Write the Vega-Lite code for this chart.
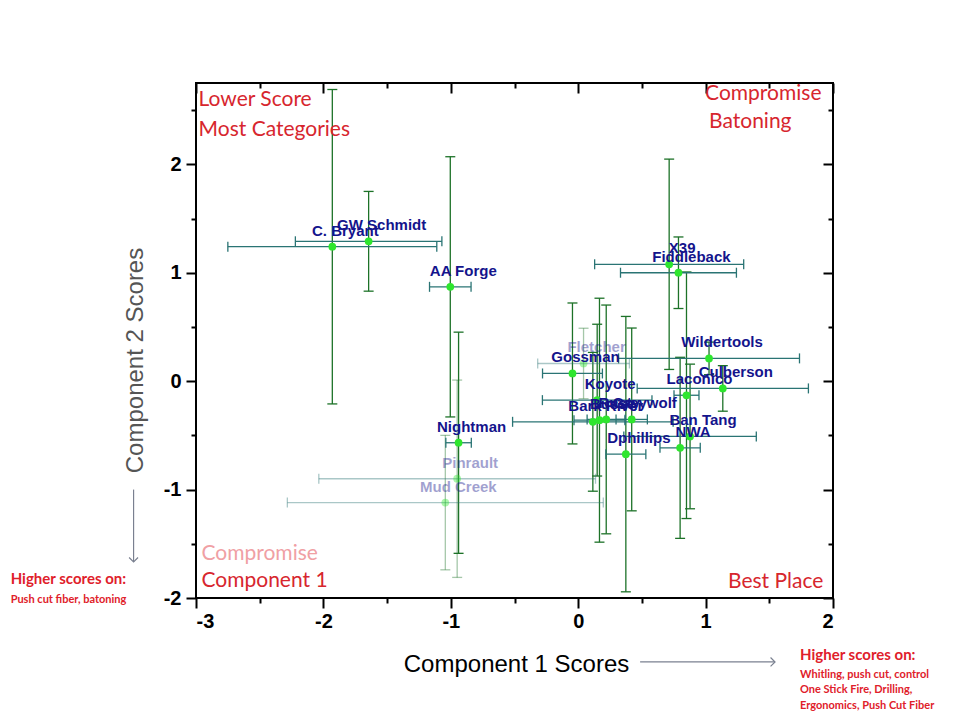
{
  "$schema": "https://vega.github.io/schema/vega-lite/v6.json",
  "width": 637,
  "height": 515,
  "autosize": {"type": "none"},
  "padding": {"left": 196, "top": 83, "right": 127, "bottom": 122},
  "background": "white",
  "config": {
    "view": {"stroke": "black", "strokeWidth": 2},
    "axis": {"grid": false, "domain": false, "tickColor": "black", "tickWidth": 2}
  },
  "datasets": {
    "pts": [
      {"name": "C. Bryant", "x": -1.93, "y": 1.24, "ex": 0.82, "ey": 1.45, "fade": "no"},
      {"name": "GW Schmidt", "x": -1.645, "y": 1.29, "ex": 0.575, "ey": 0.46, "fade": "no"},
      {"name": "AA Forge", "x": -1.004, "y": 0.87, "ex": 0.163, "ey": 1.2, "fade": "no"},
      {"name": "X39", "x": 0.714, "y": 1.078, "ex": 0.585, "ey": 0.97, "fade": "no"},
      {"name": "Fiddleback", "x": 0.787, "y": 1.0, "ex": 0.455, "ey": 0.33, "fade": "no"},
      {"name": "Wildertools", "x": 1.027, "y": 0.21, "ex": 0.71, "ey": 0.15, "fade": "no"},
      {"name": "Culberson", "x": 1.135, "y": -0.067, "ex": 0.672, "ey": 0.21, "fade": "no"},
      {"name": "Laconico", "x": 0.85, "y": -0.13, "ex": 0.098, "ey": 1.137, "fade": "no"},
      {"name": "Ban Tang", "x": 0.878, "y": -0.51, "ex": 0.52, "ey": 0.667, "fade": "no"},
      {"name": "NWA", "x": 0.8, "y": -0.615, "ex": 0.158, "ey": 0.835, "fade": "no"},
      {"name": "Fletcher", "x": 0.042, "y": 0.163, "ex": 0.36, "ey": 0.325, "fade": "yes"},
      {"name": "Gossman", "x": -0.045, "y": 0.071, "ex": 0.235, "ey": 0.65, "fade": "no"},
      {"name": "Koyote", "x": 0.149, "y": -0.175, "ex": 0.43, "ey": 0.7, "fade": "no"},
      {"name": "Bark River", "x": 0.115, "y": -0.375, "ex": 0.63, "ey": 0.64, "fade": "no"},
      {"name": "Busse", "x": 0.167, "y": -0.36, "ex": 0.2, "ey": 1.125, "fade": "no"},
      {"name": "Rusty", "x": 0.22, "y": -0.353, "ex": 0.15, "ey": 1.055, "fade": "no"},
      {"name": "Greywolf", "x": 0.42, "y": -0.353, "ex": 0.123, "ey": 0.843, "fade": "no"},
      {"name": "Dphillips", "x": 0.374, "y": -0.673, "ex": 0.157, "ey": 1.27, "fade": "no"},
      {"name": "Nightman", "x": -0.939, "y": -0.568, "ex": 0.1, "ey": 1.02, "fade": "no"},
      {"name": "Pinrault", "x": -0.95, "y": -0.9, "ex": 1.086, "ey": 0.91, "fade": "yes"},
      {"name": "Mud Creek", "x": -1.043, "y": -1.12, "ex": 1.24, "ey": 0.62, "fade": "yes"}
    ],
    "notes": [
      {"text": "Lower Score", "x": -2.98, "y": 2.59, "kind": "corner"},
      {"text": "Most Categories", "x": -2.98, "y": 2.32, "kind": "corner"},
      {"text": "Compromise", "x": 0.996, "y": 2.645, "kind": "corner"},
      {"text": "Batoning", "x": 1.027, "y": 2.387, "kind": "corner"},
      {"text": "Compromise", "x": -2.957, "y": -1.594, "kind": "pink"},
      {"text": "Component 1", "x": -2.957, "y": -1.843, "kind": "corner"},
      {"text": "Best Place", "x": 1.176, "y": -1.853, "kind": "corner"},
      {"text": "Higher scores on:", "x": -4.455, "y": -1.825, "kind": "head"},
      {"text": "Push cut fiber, batoning", "x": -4.455, "y": -2.018, "kind": "body"},
      {"text": "Higher scores on:", "x": 1.741, "y": -2.525, "kind": "head"},
      {"text": "Whitling, push cut, control", "x": 1.741, "y": -2.71, "kind": "body"},
      {"text": "One Stick Fire, Drilling,", "x": 1.741, "y": -2.848, "kind": "body"},
      {"text": "Ergonomics, Push Cut Fiber", "x": 1.741, "y": -2.995, "kind": "body"}
    ],
    "arrows": [
      {"dir": "down", "x": -3.49, "y": -1.0, "x2": -3.49, "y2": -1.668},
      {"dir": "right", "x": 0.486, "y": -2.59, "x2": 1.545, "y2": -2.59}
    ]
  },
  "resolve": {"axis": {"x": "independent", "y": "independent"}},
  "layer": [
    {
      "data": {"name": "pts"},
      "mark": {"type": "errorbar", "ticks": {"size": 10}, "color": "#1d7228", "thickness": 1.3},
      "encoding": {
        "y": {"field": "y", "type": "quantitative",
          "scale": {"domain": [-2, 2.75], "nice": false, "zero": false},
          "axis": {"orient": "left", "values": [-2, -1.5, -1, -0.5, 0, 0.5, 1, 1.5, 2, 2.5],
            "labelExpr": "datum.value % 1 === 0 ? '' + datum.value : ''",
            "tickSize": {"condition": {"test": "datum.value % 1 === 0", "value": 10}, "value": 5},
            "labelFont": "Liberation Sans", "labelFontSize": 20, "labelFontWeight": "bold", "labelColor": "black", "labelPadding": 5,
            "title": "Component 2 Scores", "titleFont": "Liberation Sans", "titleFontSize": 24, "titleFontWeight": "normal",
            "titleColor": "#555555", "titleAngle": -90, "titleX": -61, "titleY": 277, "titleAlign": "center", "titleBaseline": "middle"}},
        "yError": {"field": "ey"},
        "x": {"field": "x", "type": "quantitative",
          "scale": {"domain": [-3, 2], "nice": false, "zero": false},
          "axis": {"orient": "bottom", "values": [-3, -2.5, -2, -1.5, -1, -0.5, 0, 0.5, 1, 1.5, 2],
            "labelExpr": "datum.value % 1 === 0 ? '' + datum.value : ''",
            "tickSize": {"condition": {"test": "datum.value % 1 === 0", "value": 10}, "value": 5},
            "labelFont": "Liberation Sans", "labelFontSize": 20, "labelFontWeight": "bold", "labelColor": "black", "labelPadding": 3,
            "title": "Component 1 Scores", "titleFont": "Liberation Sans", "titleFontSize": 24, "titleFontWeight": "normal",
            "titleColor": "black", "titleX": 320, "titleY": 66, "titleAlign": "center", "titleBaseline": "middle"}},
        "opacity": {"field": "fade", "type": "nominal", "scale": {"domain": ["no", "yes"], "range": [1, 0.4]}, "legend": null}
      }
    },
    {
      "data": {"name": "pts"},
      "mark": {"type": "errorbar", "ticks": {"size": 10}, "color": "#2a7474", "thickness": 1.3},
      "encoding": {
        "x": {"field": "x", "type": "quantitative",
          "axis": {"orient": "top", "values": [-3, -2.5, -2, -1.5, -1, -0.5, 0, 0.5, 1, 1.5, 2], "labels": false, "title": null,
            "tickSize": {"condition": {"test": "datum.value % 1 === 0", "value": -10}, "value": -5}}},
        "xError": {"field": "ex"},
        "y": {"field": "y", "type": "quantitative",
          "axis": {"orient": "right", "values": [-2, -1.5, -1, -0.5, 0, 0.5, 1, 1.5, 2, 2.5], "labels": false, "title": null,
            "tickSize": {"condition": {"test": "datum.value % 1 === 0", "value": -10}, "value": -5}}},
        "opacity": {"field": "fade", "type": "nominal", "scale": {"domain": ["no", "yes"], "range": [1, 0.4]}, "legend": null}
      }
    },
    {
      "data": {"name": "pts"},
      "mark": {"type": "circle", "size": 60, "color": "#2ee62e", "opacity": 1},
      "encoding": {
        "x": {"field": "x", "type": "quantitative", "axis": null},
        "y": {"field": "y", "type": "quantitative", "axis": null},
        "opacity": {"field": "fade", "type": "nominal", "scale": {"domain": ["no", "yes"], "range": [1, 0.5]}, "legend": null}
      }
    },
    {
      "data": {"name": "pts"},
      "mark": {"type": "text", "font": "Liberation Sans", "fontWeight": "bold", "fontSize": 15, "color": "#14148c", "dx": 13, "dy": -16, "align": "center", "baseline": "middle"},
      "encoding": {
        "x": {"field": "x", "type": "quantitative", "axis": null},
        "y": {"field": "y", "type": "quantitative", "axis": null},
        "text": {"field": "name"},
        "opacity": {"field": "fade", "type": "nominal", "scale": {"domain": ["no", "yes"], "range": [1, 0.45]}, "legend": null}
      }
    },
    {
      "data": {"name": "notes"},
      "transform": [{"filter": "datum.kind === 'corner'"}],
      "mark": {"type": "text", "font": "Lato", "fontSize": 21, "color": "#d7262e", "align": "left", "baseline": "middle"},
      "encoding": {
        "x": {"field": "x", "type": "quantitative", "axis": null},
        "y": {"field": "y", "type": "quantitative", "axis": null},
        "text": {"field": "text"}
      }
    },
    {
      "data": {"name": "notes"},
      "transform": [{"filter": "datum.kind === 'pink'"}],
      "mark": {"type": "text", "font": "Lato", "fontSize": 21, "color": "#f0a0a4", "align": "left", "baseline": "middle"},
      "encoding": {
        "x": {"field": "x", "type": "quantitative", "axis": null},
        "y": {"field": "y", "type": "quantitative", "axis": null},
        "text": {"field": "text"}
      }
    },
    {
      "data": {"name": "notes"},
      "transform": [{"filter": "datum.kind === 'head'"}],
      "mark": {"type": "text", "font": "Lato", "fontSize": 15, "fontWeight": "bold", "color": "#e0202a", "align": "left", "baseline": "middle"},
      "encoding": {
        "x": {"field": "x", "type": "quantitative", "axis": null},
        "y": {"field": "y", "type": "quantitative", "axis": null},
        "text": {"field": "text"}
      }
    },
    {
      "data": {"name": "notes"},
      "transform": [{"filter": "datum.kind === 'body'"}],
      "mark": {"type": "text", "font": "Lato", "fontSize": 11, "fontWeight": "bold", "color": "#e0202a", "align": "left", "baseline": "middle"},
      "encoding": {
        "x": {"field": "x", "type": "quantitative", "axis": null},
        "y": {"field": "y", "type": "quantitative", "axis": null},
        "text": {"field": "text"}
      }
    },
    {
      "data": {"name": "arrows"},
      "mark": {"type": "rule", "color": "#7a8090", "strokeWidth": 1.2},
      "encoding": {
        "x": {"field": "x", "type": "quantitative", "axis": null},
        "y": {"field": "y", "type": "quantitative", "axis": null},
        "x2": {"field": "x2"},
        "y2": {"field": "y2"}
      }
    },
    {
      "data": {"name": "arrows"},
      "transform": [{"filter": "datum.dir === 'down'"}],
      "mark": {"type": "point", "shape": "M-1,-1L0,0L1,-1", "filled": false, "size": 80, "color": "#7a8090", "strokeWidth": 1.2, "opacity": 1},
      "encoding": {
        "x": {"field": "x2", "type": "quantitative", "axis": null},
        "y": {"field": "y2", "type": "quantitative", "axis": null}
      }
    },
    {
      "data": {"name": "arrows"},
      "transform": [{"filter": "datum.dir === 'right'"}],
      "mark": {"type": "point", "shape": "M-1,-1L0,0L-1,1", "filled": false, "size": 80, "color": "#7a8090", "strokeWidth": 1.2, "opacity": 1},
      "encoding": {
        "x": {"field": "x2", "type": "quantitative", "axis": null},
        "y": {"field": "y2", "type": "quantitative", "axis": null}
      }
    }
  ]
}
